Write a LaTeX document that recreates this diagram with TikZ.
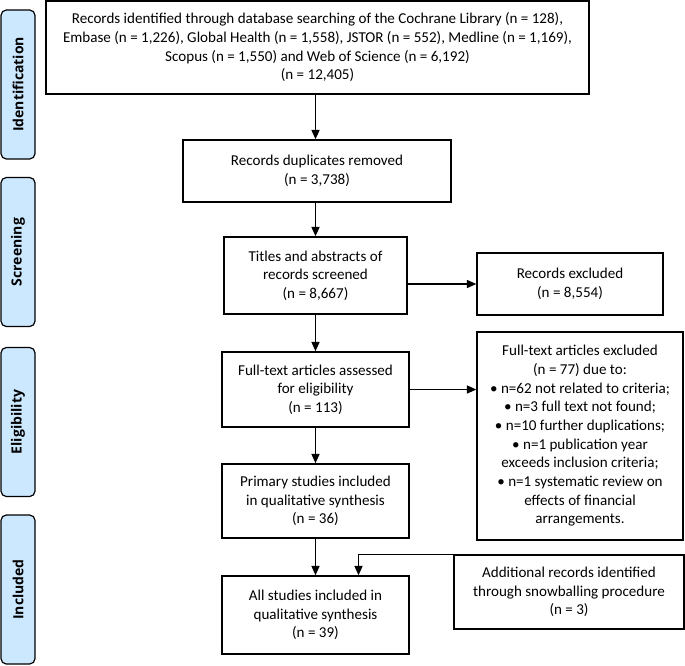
\documentclass[tikz,border=0pt]{standalone}
\usepackage{fontspec}
\setmainfont{Carlito}
\newfontfamily\stagefont{Open Sans}
\usepackage{xcolor}
\usepackage{tikz}
\usetikzlibrary{arrows.meta}
\definecolor{stageblue}{RGB}{204,232,255}

\begin{document}
\begin{tikzpicture}[x=0.75pt,y=-0.75pt,
    box/.style={draw, line width=1.1pt, align=center, inner sep=0pt, font=\fontsize{11.3}{14}\selectfont},
    stage/.style={draw, line width=0.9pt, fill=stageblue, rounded corners=4pt, rotate=90,
        minimum width=111.75pt, minimum height=25.5pt, inner sep=0pt,
        font=\stagefont\bfseries\fontsize{10.5}{12}\selectfont},
    arr/.style={line width=1.1pt, -{Triangle[length=7pt,width=6pt]}}]

    \useasboundingbox (0,0) rectangle (685,665);

    % stages on the left
    \node[stage] (ident) at (18,84.5) {Identification};
    \node[stage] (screen) at (18,252) {Screening};
    \node[stage] (elig) at (18,422) {Eligibility};
    \node[stage] (incl) at (18,589.5) {Included};

    % main column
    \node[box, minimum width=407.25pt, minimum height=69.75pt] (search) at (317.5,47.5)
        {Records identified through database searching of the Cochrane Library (n = 128),\\
         Embase (n = 1,226), Global Health (n = 1,558), JSTOR (n = 552), Medline (n = 1,169),\\
         Scopus (n = 1,550) and Web of Science (n = 6,192)\\
         (n = 12,405)};
    \node[box, minimum width=201pt, minimum height=46.5pt] (dupl) at (317,171)
        {Records duplicates removed\\(n = 3,738)};
    \node[box, minimum width=137.25pt, minimum height=57.75pt] (titles) at (315.5,275.5)
        {Titles and abstracts of\\records screened\\(n = 8,667)};
    \node[box, minimum width=140.25pt, minimum height=56.25pt] (fulltext) at (315.5,389.5)
        {Full-text articles assessed\\for eligibility\\(n = 113)};
    \node[box, minimum width=140.25pt, minimum height=55.5pt] (primary) at (315.5,501)
        {Primary studies included\\in qualitative synthesis\\(n = 36)};
    \node[box, minimum width=140.25pt, minimum height=58.5pt] (allstud) at (315.5,615)
        {All studies included in\\qualitative synthesis\\(n = 39)};

    % right column
    \node[box, minimum width=139.5pt, minimum height=46.5pt] (recexcl) at (570,284)
        {Records excluded\\(n = 8,554)};
    \node[box, minimum width=154.5pt, minimum height=156pt] (ftexcl) at (580,436)
        {Full-text articles excluded\\(n = 77) due to:\\
         \textbullet\ n=62 not related to criteria;\\
         \textbullet\ n=3 full text not found;\\
         \textbullet\ n=10 further duplications;\\
         \textbullet\ n=1 publication year\\
         exceeds inclusion criteria;\\
         \textbullet\ n=1 systematic review on\\
         effects of financial\\
         arrangements.};
    \node[box, minimum width=172.5pt, minimum height=55.5pt] (snowball) at (569,592)
        {Additional records identified\\through snowballing procedure\\(n = 3)};

    % connectors
    \draw[arr] (search.south -| titles) -- (dupl.north -| titles);
    \draw[arr] (dupl.south -| titles) -- (titles.north);
    \draw[arr] (titles) -- (fulltext);
    \draw[arr] (fulltext) -- (primary);
    \draw[arr] (primary) -- (allstud);
    \draw[arr] (titles.east |- recexcl) -- (recexcl.west);
    \draw[arr] (fulltext.east) -- (ftexcl.west |- fulltext);
    \draw[arr] (snowball.north west) -| ([xshift=32.25pt]allstud.north);

\end{tikzpicture}
\end{document}
